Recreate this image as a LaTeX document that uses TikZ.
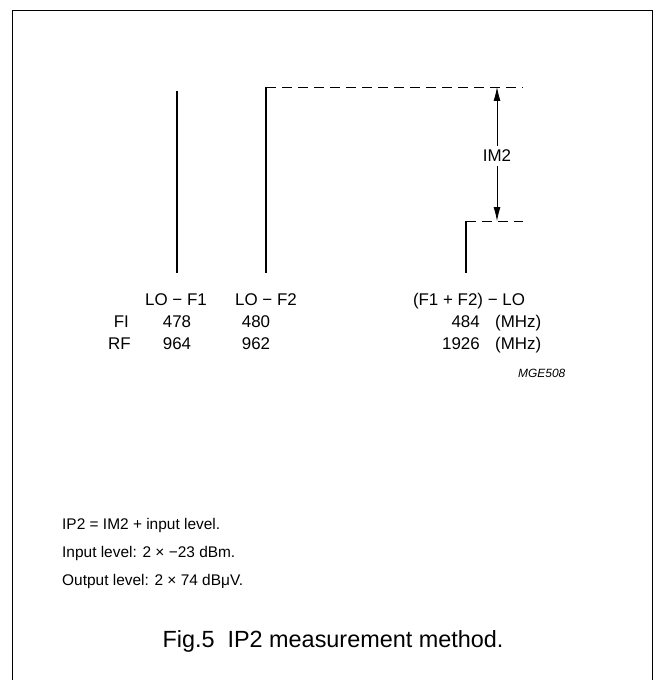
\documentclass[tikz,border=0pt]{standalone}
\usepackage{fontspec}
\setmainfont{Liberation Sans}
\usetikzlibrary{arrows.meta, positioning}

\begin{document}
\begin{tikzpicture}[x=1bp, y=-1bp,
  specline/.style={line width=2.6bp},
  dashline/.style={line width=0.9bp, dash pattern=on 10bp off 6bp},
  lbl/.style={inner sep=0pt, anchor=base, font=\fontsize{17}{20}\selectfont},
  note/.style={inner sep=0pt, anchor=base west, font=\fontsize{15.5}{18}\selectfont}]
  \useasboundingbox (0,0) rectangle (656,680);
  % frame, open at the bottom
  \draw[line width=0.8bp] (12,680) |- (652,10) -- (652,680);

  % spectral lines
  \coordinate (f1top) at (177,91);
  \coordinate (f1bot) at (177,273);
  \coordinate (f2top) at (266,87);
  \coordinate (f2bot) at (266,273);
  \coordinate (imtop) at (466,221);
  \coordinate (imbot) at (466,273);
  \coordinate (refhi) at (523,87);
  \coordinate (reflo) at (523,221);
  \coordinate (arrhi) at (497,87);
  \coordinate (arrlo) at (497,221);
  \draw[specline] (f1top) -- (f1bot);
  \draw[specline] (f2bot) -- (f2top);
  \draw[specline] (imbot) -- (imtop);
  \draw[dashline] (f2top) -- (refhi);
  \draw[dashline] (imtop) -- (reflo);

  % IM2 distance
  \node[inner sep=4bp, font=\fontsize{17}{20}\selectfont] (im2) at (497,156) {IM2};
  \draw[line width=0.8bp, -{Latex[length=14bp, width=7bp]}] (im2) -- (arrhi);
  \draw[line width=0.8bp, -{Latex[length=14bp, width=7bp]}] (im2) -- (arrlo);

  % frequencies
  \node[lbl] (lof1) at (176,305) {LO − F1};
  \node[lbl] (lof2) at (266,305) {LO − F2};
  \node[lbl] (sum) at (469,305) {(F1 + F2) − LO};
  \node[lbl, anchor=base east] (fi) at (129,327) {FI};
  \node[lbl, anchor=base east] (rf) at (131,349) {RF};
  \node[lbl] (fi1) at (177,327) {478};
  \node[lbl] (rf1) at (177,349) {964};
  \node[lbl] (fi2) at (256,327) {480};
  \node[lbl] (rf2) at (256,349) {962};
  \node[lbl, anchor=base east] (fi3) at (480,327) {484};
  \node[lbl, anchor=base east] (rf3) at (480,349) {1926};
  \node[lbl, anchor=base west] (mhz1) at (495,327) {(MHz)};
  \node[lbl, anchor=base west] (mhz2) at (495,349) {(MHz)};
  \node[inner sep=0pt, anchor=base west, font=\fontsize{12}{14}\selectfont\itshape] (code) at (518,377) {MGE508};

  % notes and caption
  \node[note] (ip2) at (62,529) {IP2 = IM2 + input level.};
  \node[note] (inlev) at (62,557) {Input level: 2 × −23 dBm.};
  \node[note] (outlev) at (62,585) {Output level: 2 × 74 dBμV.};
  \node[inner sep=0pt, anchor=base, font=\fontsize{23.5}{28}\selectfont] (cap) at (333,647) {Fig.5\ \ IP2 measurement method.};
\end{tikzpicture}
\end{document}
